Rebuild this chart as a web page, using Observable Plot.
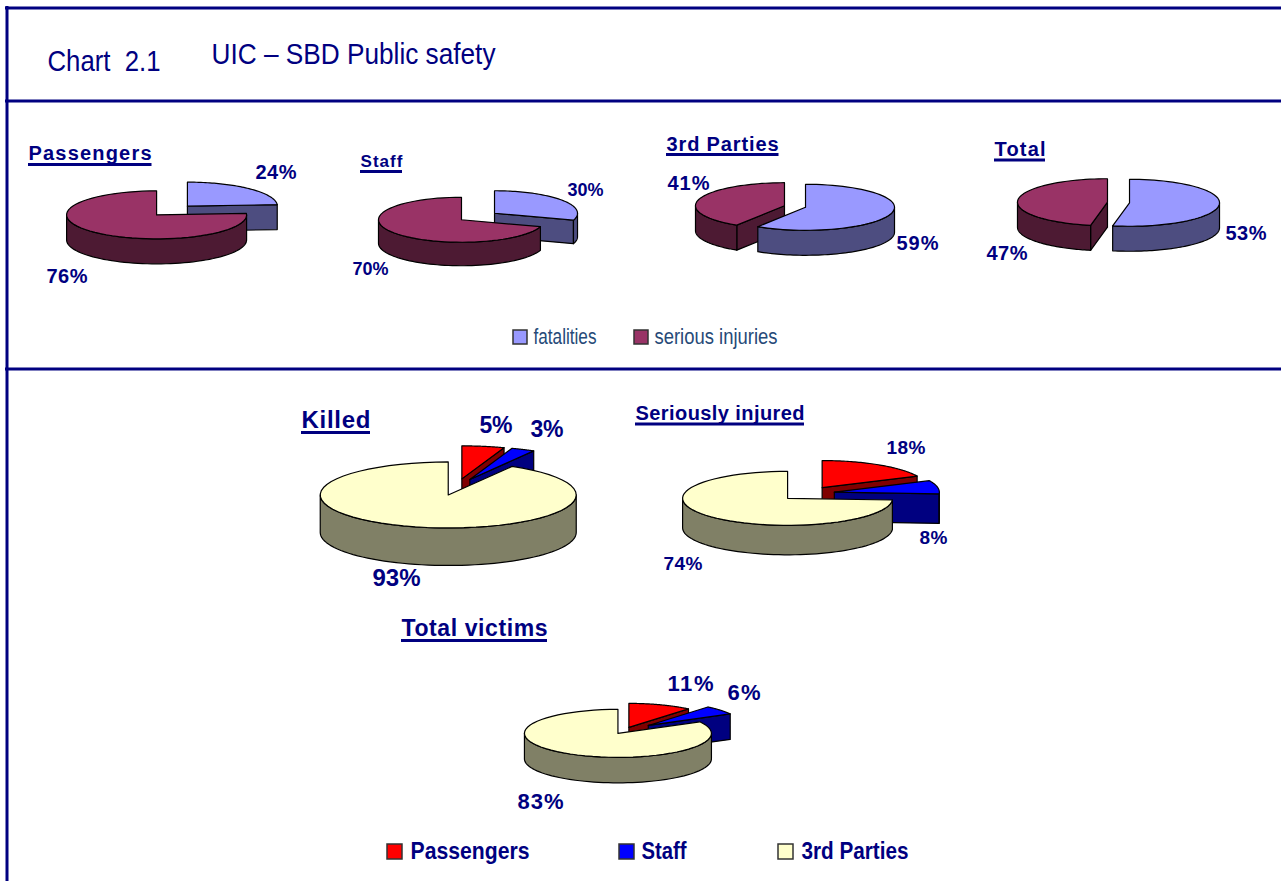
<!DOCTYPE html>
<html>
<head>
<meta charset="utf-8">
<style>
html,body{margin:0;padding:0;background:#fff;overflow:hidden}
svg{display:block}
text{white-space:pre}
</style>
<script src="https://cdn.jsdelivr.net/npm/d3@7"></script>
<script src="https://cdn.jsdelivr.net/npm/@observablehq/plot@0.6"></script>
</head>
<body>
<div id="chart"></div>
<script>
// ---- data -----------------------------------------------------------
const sharesPassengers = [24, 76];
const sharesStaff = [30, 70];
const sharesThirdParties = [59, 41];
const sharesTotal = [53, 47];
const sharesKilled = [5.4, 3, 92.6];
const sharesInjured = [18, 8, 74];
const sharesVictims = [11, 6, 83];

const severityNames = ["fatalities", "serious injuries"];
const victimNames = ["Passengers", "Staff", "3rd Parties"];

// ---- styles ---------------------------------------------------------
const NAVY = "#000080";
const severityColors = [["#9999FF", "#4D4D80"], ["#993366", "#4D1A33"]];
const victimColors = [["#FF0000", "#800000"], ["#0000FF", "#000080"], ["#FFFFCC", "#808066"]];

// ---- layout: pie centre, radii, extrusion depth, pull and paint order --
const pies = [
  {values: sharesPassengers,   colors: severityColors, cx: 171.5, cy: 210,   rx: 90,   ry: 24,   depth: 25,   pull: [.25, .25],         order: [0, 1]},
  {values: sharesStaff,        colors: severityColors, cx: 477.5, cy: 216,   rx: 83,   ry: 22.5, depth: 23.5, pull: [.246, .246],       order: [0, 1]},
  {values: sharesThirdParties, colors: severityColors, cx: 794.5, cy: 206,   rx: 89,   ry: 23,   depth: 25,   pull: [.123, .123],       order: [1, 0]},
  {values: sharesTotal,        colors: severityColors, cx: 1118,  cy: 202,   rx: 90,   ry: 23.5, depth: 25,   pull: [.123, .123],       order: [1, 0]},
  {values: sharesKilled,       colors: victimColors,   cx: 456,   cy: 486.5, rx: 128,  ry: 33,   depth: 37.5, pull: [.25, .25, .25],    order: [0, 1, 2]},
  {values: sharesInjured,      colors: victimColors,   cx: 807,   cy: 493,   rx: 105,  ry: 27,   depth: 29.5, pull: [.26, .26, .26],    order: [0, 1, 2]},
  {values: sharesVictims,      colors: victimColors,   cx: 624,   cy: 730,   rx: 93.5, ry: 24,   depth: 25.5, pull: [.138, .33, .138],  order: [0, 1, 2]}
];

// ---- geometry derived from the values --------------------------------
const polygons = [];
let polyId = 0;
function addPolygon(points, fill) {
  const id = polyId++;
  const closed = points.concat([points[0]]);
  closed.forEach(([x, y]) => polygons.push({id, x, y, fill}));
}
pies.forEach(pie => {
  const total = d3.sum(pie.values);
  const stops = d3.cumsum(pie.values).map(c => c / total * 2 * Math.PI);
  pie.order.forEach(i => {
    const a0 = i ? stops[i - 1] : 0;
    const a1 = stops[i];
    const mid = (a0 + a1) / 2;
    const ox = pie.cx + pie.pull[i] * pie.rx * Math.sin(mid);
    const oy = pie.cy - pie.pull[i] * pie.ry * Math.cos(mid);
    const pt = (a, dz = 0) => [ox + pie.rx * Math.sin(a), oy - pie.ry * Math.cos(a) + dz];
    const arc = (s, e, dz = 0) => d3.range(0, 61).map(k => pt(s + (e - s) * k / 60, dz));
    const [topColor, sideColor] = pie.colors[i];
    // cut faces looking toward the viewer
    [[a0, a0 - Math.PI / 2], [a1, a1 + Math.PI / 2]].forEach(([a, normal]) => {
      if (Math.cos(normal) < -1e-6) {
        addPolygon([[ox, oy], pt(a), pt(a, pie.depth), [ox, oy + pie.depth]], sideColor);
      }
    });
    // outer wall: the front half of the rim only
    const w0 = Math.max(a0, Math.PI / 2), w1 = Math.min(a1, 3 * Math.PI / 2);
    if (w1 > w0) {
      addPolygon(arc(w0, w1).concat(arc(w0, w1, pie.depth).reverse()), sideColor);
    }
    // top surface
    addPolygon([[ox, oy]].concat(arc(a0, a1)), topColor);
  });
});

// ---- text tables: text, left x, baseline y, font size, width ---------
const titleTexts = [
  ["Chart  2.1", 47, 70.5, 30, 113],
  ["UIC – SBD Public safety", 211, 63, 30, 284]
];
const boldTexts = [
  ["Passengers", 28, 159, 20, 123], ["Staff", 360, 166.5, 17, 42],
  ["3rd Parties", 666, 150, 20, 112], ["Total", 994, 155, 20, 51],
  ["Killed", 301, 427, 24, 69], ["Seriously injured", 635, 419, 20, 169],
  ["Total victims", 401, 635.5, 23, 146],
  ["24%", 255, 178, 20, 41], ["76%", 46, 282, 20, 41],
  ["30%", 567, 195, 18, 36], ["70%", 352, 274, 18, 36],
  ["59%", 896, 249, 20, 42], ["41%", 667, 189.5, 20, 42],
  ["53%", 1225, 239, 20, 41], ["47%", 986, 259.5, 20, 41],
  ["5%", 479, 432, 23, 33], ["3%", 530, 436.5, 23, 33], ["93%", 372, 585, 24, 48],
  ["18%", 886, 453, 19, 39], ["8%", 919, 543, 19, 28], ["74%", 663, 569, 19, 39],
  ["11%", 667, 690.5, 22, 46], ["6%", 727, 699, 22, 33], ["83%", 517, 808, 22, 46]
];
const upperLegendTexts = [
  [severityNames[0], 533, 343, 22, 63],
  [severityNames[1], 654, 343, 22, 123]
];
const lowerLegendTexts = [
  [victimNames[0], 410, 858, 24, 119],
  [victimNames[1], 641, 858, 24, 45],
  [victimNames[2], 801, 858, 24, 107]
];
const underlines = [
  [28, 151.5, 164], [360, 402, 171], [666, 778.5, 154], [994, 1045, 159.5],
  [301, 370, 432], [635, 804, 423.5], [401, 547, 640]
];
const legendKeys = [
  [513, 330, severityColors[0][0]], [634, 330, severityColors[1][0]],
  [387, 844, victimColors[0][0]], [619, 844, victimColors[1][0]], [778, 844, victimColors[2][0]]
];
const keySizes = [14, 14, 15, 15, 15];

const textMark = (rows, color, weight) => Plot.text(rows, {
  x: d => d[1], y: d => d[2], text: d => d[0], fontSize: d => d[3],
  textAnchor: "start", lineAnchor: "bottom", fill: color,
  fontFamily: "Liberation Sans", fontWeight: weight
});

const keyRows = legendKeys.map((d, i) => ({x1: d[0], x2: d[0] + keySizes[i], y1: d[1], y2: d[1] + keySizes[i], fill: d[2]}));

const plot = Plot.plot({
  width: 1281, height: 881,
  margin: 0,
  x: {domain: [0, 1281], range: [0, 1281], axis: null},
  y: {domain: [0, 881], range: [0, 881], axis: null},
  color: {type: "identity"},
  style: {background: "#fff"},
  marks: [
    Plot.line(polygons, {x: "x", y: "y", z: "id", fill: "fill", stroke: "#000", strokeWidth: 1.2, strokeLinejoin: "round"}),
    Plot.ruleY([7.5, 100.5, 368.5], {x1: 5, x2: 1281, stroke: NAVY, strokeWidth: 3}),
    Plot.ruleX([6.5], {y1: 6, y2: 881, stroke: NAVY, strokeWidth: 3}),
    Plot.ruleY(underlines, {x1: d => d[0], x2: d => d[1], y: d => d[2], stroke: NAVY, strokeWidth: 3}),
    Plot.rect(keyRows, {x1: "x1", x2: "x2", y1: "y1", y2: "y2", fill: "fill", stroke: "#333", strokeWidth: 1.5}),
    textMark(titleTexts, NAVY, "normal"),
    textMark(boldTexts, NAVY, "bold"),
    textMark(upperLegendTexts, "#264a78", "normal"),
    textMark(lowerLegendTexts, NAVY, "bold")
  ]
});

// stretch each text to the width measured on the reference
const allTexts = [...titleTexts, ...boldTexts, ...upperLegendTexts, ...lowerLegendTexts];
plot.querySelectorAll("text").forEach((node, i) => {
  const row = allTexts[i];
  if (!row) return;
  node.setAttribute("textLength", row[4]);
  node.setAttribute("lengthAdjust", boldTexts.includes(row) ? "spacing" : "spacingAndGlyphs");
});

document.getElementById("chart").appendChild(plot);
</script>
</body>
</html>
